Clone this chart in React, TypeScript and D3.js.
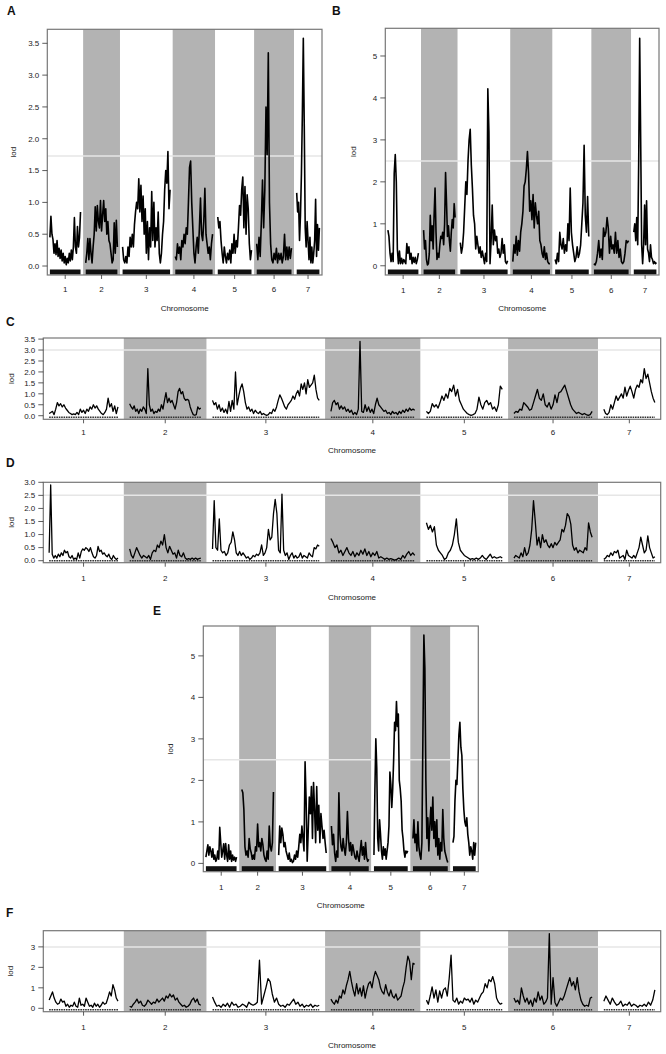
import * as d3 from 'd3'

const chromosomes = ['1', '2', '3', '4', '5', '6', '7']
// chromosome lengths (cM) and the gap R/qtl puts between them
const chrLengths = [147, 152, 228, 179, 162, 167, 109]
const chrGap = 25

// LOD profiles, one array per chromosome, evenly spaced along it
const lodA = [
  [0.45, 0.78, 0.5, 0.42, 0.2, 0.35, 0.18, 0.4, 0.15, 0.28, 0.12, 0.25, 0.08, 0.2, 0.05, 0.15, 0.02, 0.12, 0.05, 0.2, 0.08, 0.25, 0.1, 0.3, 0.76, 0.3, 0.2, 0.62, 0.3, 0.45, 0.85],
  [0.05, 0.2, 0.43, 0.1, 0.43, 0.2, 0.05, 0.3, 0.5, 0.93, 0.55, 0.95, 0.7, 0.6, 1.03, 0.55, 0.8, 1.03, 0.7, 0.9, 0.5, 0.7, 0.4, 0.35, 0.2, 0.05, 0.1, 0.68, 0.2, 0.72, 0.3],
  [0.3, 0.1, 0.05, 0.15, 0.05, 0.3, 0.15, 0.45, 0.3, 0.5, 0.3, 0.65, 0.85, 1.0, 0.9, 1.37, 0.85, 1.27, 0.7, 1.1, 0.5, 0.9, 0.2, 0.7, 0.1, 0.6, 0.3, 1.17, 0.4, 1.0, 0.3, 0.6, 0.4, 0.85, 0.2, 0.05, 0.2, 0.5, 0.7, 1.2, 1.5, 1.3, 1.8, 0.9, 1.2],
  [0.15, 0.1, 0.35, 0.2, 0.3, 0.1, 0.4, 0.3, 0.5, 0.35, 0.6, 0.5, 1.0, 1.55, 1.65, 1.0, 0.6, 0.2, 0.05, 0.3, 0.45, 0.2, 0.6, 1.07, 0.5, 0.4, 0.7, 1.22, 0.5, 0.35, 0.2, 0.3, 0.1, 0.35, 0.5],
  [0.77, 0.6, 0.7, 0.4, 0.2, 0.05, 0.3, 0.15, 0.05, 0.2, 0.1, 0.25, 0.05, 0.35, 0.2, 0.5, 0.2, 0.4, 0.3, 0.6, 0.95, 0.8, 1.2, 1.4, 0.6, 1.25, 0.5, 1.12, 0.9, 0.35, 0.1, 0.25],
  [0.35, 0.1, 0.45, 0.15, 0.7, 1.35, 0.6, 1.2, 2.5, 1.75, 3.35, 1.0, 0.35, 0.1, 0.05, 0.2, 0.1, 0.28, 0.05, 0.2, 0.1, 0.2, 0.05, 0.15, 0.5, 0.1, 0.3, 0.1, 0.3, 0.12, 0.28],
  [1.15, 0.85, 1.0, 0.4, 0.8, 1.45, 2.4, 3.58, 2.2, 0.6, 0.3, 0.7, 0.4, 0.1, 0.45, 0.05, 0.3, 0.05, 0.2, 0.4, 1.05, 0.15, 0.65, 0.25, 0.6],
]

const lodB = [
  [0.85, 0.7, 0.3, 0.1, 0.3, 0.1, 2.2, 2.65, 2.0, 0.4, 0.05, 0.35, 0.05, 0.18, 0.05, 0.15, 0.1, 0.05, 0.53, 0.3, 0.45, 0.15, 0.3, 0.05, 0.2, 0.08, 0.2, 0.05, 0.15, 0.3],
  [0.85, 0.4, 0.6, 0.15, 0.02, 0.05, 0.3, 1.2, 0.6, 0.95, 0.4, 1.2, 1.85, 0.8, 0.15, 0.3, 0.2, 0.5, 0.7, 0.65, 0.8, 0.5, 1.0, 2.22, 1.5, 0.7, 0.95, 0.6, 0.35, 0.8, 1.1, 0.9, 1.48, 1.15],
  [0.55, 0.3, 0.45, 0.8, 1.4, 2.0, 1.7, 2.5, 3.0, 3.25, 2.4, 1.85, 1.2, 1.0, 0.4, 0.7, 0.5, 0.3, 0.45, 0.2, 0.35, 0.2, 0.05, 0.3, 0.1, 4.22, 3.2, 0.05, 0.6, 1.45, 0.5, 0.85, 0.6, 0.7, 0.3, 0.4, 0.2, 0.3, 0.65, 0.3, 0.5, 0.1, 0.05, 0.12],
  [0.1, 0.5, 0.3, 0.7, 0.25, 0.6, 0.35, 0.8, 1.0, 1.3, 1.9, 2.0, 2.3, 2.72, 2.2, 1.3, 1.55, 1.1, 1.7, 0.9, 1.5, 1.2, 1.0, 1.3, 0.6, 0.5, 0.3, 0.2, 0.45, 0.15, 0.3, 0.1, 0.05, 0.05],
  [0.15, 0.05, 0.3, 0.1, 0.8, 0.5, 0.4, 0.65, 0.3, 0.5, 0.35, 1.0, 0.6, 1.85, 0.8, 0.5, 0.3, 0.1, 0.2, 0.45, 0.2, 0.3, 0.5, 1.0, 1.5, 2.87, 1.2, 0.8, 1.65, 0.7],
  [0.05, 0.02, 0.1, 0.3, 0.6, 0.2, 0.4, 0.15, 0.9, 0.7, 0.8, 1.15, 0.9, 0.3, 0.7, 0.4, 0.5, 0.3, 0.8, 0.3, 0.6, 0.2, 0.4, 0.1, 0.05, 0.1, 0.3, 0.6, 0.55, 0.6],
  [0.8, 1.0, 0.6, 1.15, 0.5, 2.5, 5.42, 3.0, 0.5, 0.05, 0.5, 1.45, 0.5, 1.55, 0.4, 0.3, 0.1, 0.5, 0.2, 0.15, 0.05, 0.1, 0.05, 0.08],
]

const lodC = [
  [0.1, 0.15, 0.2, 0.05, 0.3, 0.6, 0.45, 0.55, 0.4, 0.5, 0.35, 0.25, 0.15, 0.1, 0.05, 0.08, 0.05, 0.15, 0.05, 0.3, 0.15, 0.25, 0.1, 0.3, 0.2, 0.4, 0.3, 0.5, 0.35, 0.45, 0.3, 0.2, 0.1, 0.05, 0.15, 0.3, 0.8, 0.4, 0.55, 0.2, 0.45, 0.1, 0.4],
  [0.55, 0.4, 0.3, 0.45, 0.2, 0.3, 0.1, 0.3, 0.2, 0.4, 0.3, 0.1, 2.15, 0.5, 0.2, 0.3, 0.1, 0.2, 0.15, 0.3, 0.2, 0.5, 0.3, 0.7, 1.05, 0.6, 0.8, 0.6, 0.7, 0.5, 0.3, 0.6, 1.1, 1.25, 1.0, 1.1, 0.8, 0.7, 0.75, 0.7, 0.4, 0.2, 0.05, 0.02, 0.05, 0.4, 0.3, 0.35],
  [0.7, 0.5, 0.6, 0.3, 0.5, 0.2, 0.35, 0.15, 0.3, 0.1, 0.65, 0.2, 0.7, 0.3, 2.0, 0.5, 0.9, 1.25, 1.45, 1.1, 0.6, 0.3, 0.4, 0.2, 0.3, 0.1, 0.25, 0.15, 0.1, 0.2, 0.05, 0.1, 0.05, 0.02, 0.05, 0.15, 0.1, 0.3, 0.2, 0.4, 0.7, 0.95, 0.8, 0.6, 0.4, 0.3, 0.5, 0.6, 0.7, 0.9, 0.75, 1.0, 1.15, 0.9, 1.45, 1.2, 1.5, 1.0, 1.65, 1.3, 1.4, 1.5, 1.85, 1.2, 0.8, 0.7],
  [0.2, 0.6, 0.7, 0.5, 0.6, 0.3, 0.45, 0.3, 0.4, 0.2, 0.3, 0.15, 0.25, 0.05, 0.15, 0.05, 0.3, 3.4, 0.2, 0.15, 0.5, 0.2, 0.4, 0.15, 0.3, 0.1, 0.5, 0.8, 0.5, 0.4, 0.3, 0.2, 0.25, 0.1, 0.15, 0.05, 0.2, 0.1, 0.15, 0.05, 0.2, 0.1, 0.25, 0.15, 0.3, 0.2, 0.35, 0.25, 0.3, 0.25],
  [0.2, 0.1, 0.2, 0.55, 0.4, 0.5, 0.35, 0.6, 0.9, 0.7, 1.0, 0.8, 1.25, 1.1, 1.4, 0.9, 1.2, 0.7, 0.5, 0.3, 0.2, 0.1, 0.05, 0.02, 0.05, 0.1, 0.3, 0.85, 0.5, 0.3, 0.6, 0.7, 0.5, 0.6, 0.3, 0.4, 0.2, 0.5, 1.35, 1.2],
  [0.1, 0.2, 0.15, 0.3, 0.25, 0.6, 0.5, 0.4, 0.25, 0.3, 0.6, 0.9, 1.2, 0.8, 0.7, 1.0, 0.5, 0.4, 0.6, 0.3, 0.5, 0.95, 0.6, 1.05, 1.1, 1.25, 1.4, 1.1, 0.8, 0.5, 0.3, 0.2, 0.1, 0.15, 0.1, 0.05, 0.1, 0.05, 0.02, 0.05, 0.2],
  [0.3, 0.1, 0.05, 0.15, 0.5, 0.3, 0.6, 0.9, 0.7, 0.85, 1.0, 0.8, 1.3, 0.9, 1.15, 1.35, 1.1, 0.8, 1.2, 1.4, 1.3, 1.65, 1.5, 2.15, 1.7, 1.9, 1.5, 1.1, 0.8, 0.6],
]

const lodD = [
  [0.3, 2.9, 0.25, 0.1, 0.2, 0.1, 0.25, 0.15, 0.3, 0.2, 0.4, 0.3, 0.35, 0.15, 0.1, 0.2, 0.05, 0.1, 0.05, 0.3, 0.1, 0.35, 0.45, 0.4, 0.5, 0.45, 0.35, 0.5, 0.3, 0.15, 0.1, 0.2, 0.55, 0.35, 0.4, 0.25, 0.3, 0.2, 0.15, 0.25, 0.1, 0.05, 0.2, 0.1, 0.05, 0.1],
  [0.45, 0.2, 0.1, 0.3, 0.5, 0.35, 0.2, 0.1, 0.2, 0.15, 0.1, 0.2, 0.05, 0.3, 0.4, 0.35, 0.6, 0.5, 0.75, 0.6, 1.0, 0.5, 0.3, 0.55, 0.4, 0.25, 0.3, 0.1, 0.4, 0.2, 0.15, 0.3, 0.1, 0.05, 0.08, 0.05, 0.1, 0.05, 0.1, 0.05, 0.08, 0.1],
  [0.45, 2.3, 0.5, 0.4, 1.6, 0.4, 0.3, 0.35, 0.2, 0.3, 0.6, 0.7, 1.1, 0.8, 0.3, 0.2, 0.35, 0.2, 0.3, 0.2, 0.1, 0.15, 0.05, 0.1, 0.2, 0.15, 0.25, 0.2, 0.3, 0.6, 0.2, 0.3, 0.5, 1.2, 0.8, 0.9, 1.8, 2.35, 1.8, 0.4, 0.3, 2.55, 0.4, 0.2, 0.3, 0.05, 0.2, 0.3, 0.1, 0.2, 0.1, 0.15, 0.3, 0.1, 0.2, 0.15, 0.1, 0.3, 0.2, 0.15, 0.5, 0.45, 0.6, 0.55],
  [0.85, 0.7, 0.5, 0.6, 0.3, 0.4, 0.2, 0.35, 0.5, 0.3, 0.2, 0.35, 0.15, 0.3, 0.2, 0.4, 0.25, 0.45, 0.2, 0.35, 0.15, 0.3, 0.2, 0.35, 0.1, 0.15, 0.1, 0.05, 0.1, 0.05, 0.08, 0.05, 0.02, 0.05, 0.1, 0.05, 0.2, 0.1, 0.25, 0.35, 0.2, 0.3, 0.2],
  [1.45, 1.2, 1.35, 1.1, 1.3, 0.6, 0.4, 0.3, 0.2, 0.05, 0.1, 0.3, 0.4, 0.6, 1.0, 1.6, 0.7, 0.4, 0.3, 0.2, 0.15, 0.1, 0.05, 0.08, 0.05, 0.1, 0.05, 0.1, 0.2, 0.1, 0.05, 0.15, 0.25, 0.1, 0.15, 0.1, 0.12, 0.15, 0.1],
  [0.1, 0.2, 0.15, 0.1, 0.3, 0.15, 0.5, 0.2, 0.3, 0.6, 1.2, 2.3, 1.5, 0.6, 0.9, 0.5, 1.0, 0.7, 0.8, 0.6, 0.5, 0.65, 0.5, 0.7, 0.6, 0.7, 0.8, 1.2, 1.1, 1.35, 1.8, 1.7, 1.4, 0.6, 0.4, 0.5, 0.3, 0.4, 0.35, 0.3, 0.5, 0.4, 1.45, 1.1, 0.9],
  [0.05, 0.1, 0.2, 0.15, 0.3, 0.2, 0.35, 0.3, 0.4, 0.1, 0.15, 0.2, 0.05, 0.4, 0.2, 0.15, 0.1, 0.2, 0.1, 0.3, 0.5, 0.9, 0.6, 0.3, 0.4, 0.95, 0.5, 0.3, 0.1, 0.15],
]

const lodE = [
  [0.15, 0.3, 0.45, 0.2, 0.4, 0.3, 0.15, 0.35, 0.1, 0.2, 0.05, 0.1, 0.3, 0.1, 0.87, 0.5, 0.15, 0.3, 0.47, 0.1, 0.48, 0.2, 0.05, 0.45, 0.1, 0.3, 0.05, 0.2, 0.08, 0.15, 0.05, 0.15],
  [1.78, 1.7, 1.3, 0.4, 0.2, 0.3, 0.15, 0.6, 0.35, 0.25, 0.1, 0.2, 0.1, 0.4, 0.3, 0.95, 0.4, 0.5, 0.3, 0.6, 0.45, 0.2, 0.1, 0.05, 0.3, 0.1, 0.9, 0.4, 0.3, 0.5, 1.72],
  [0.2, 0.9, 0.5, 0.85, 0.7, 0.4, 0.5, 0.3, 0.2, 0.1, 0.25, 0.05, 0.1, 0.02, 0.05, 0.2, 0.1, 0.3, 0.15, 0.4, 0.7, 0.5, 0.9, 0.6, 0.3, 2.45, 1.5, 0.05, 0.8, 1.6, 1.2, 1.85, 0.6, 1.95, 1.3, 0.5, 1.85, 0.8, 1.4, 0.5, 1.2, 0.9, 0.6, 0.8, 0.5, 0.25],
  [0.9, 0.45, 0.7, 0.25, 0.05, 0.3, 0.15, 1.7, 0.7, 0.4, 0.3, 0.6, 0.35, 0.2, 0.5, 1.25, 0.6, 0.3, 0.5, 0.2, 0.45, 0.3, 0.15, 0.1, 0.3, 0.15, 0.05, 0.3, 0.55, 0.2, 0.4, 0.1, 0.5, 0.15, 0.05, 0.1],
  [0.2, 1.75, 3.0, 2.3, 0.6, 0.3, 1.05, 0.7, 0.3, 0.1, 0.4, 0.2, 0.35, 0.1, 0.3, 0.5, 0.9, 2.2, 1.9, 1.35, 1.8, 2.5, 3.4, 3.2, 3.9, 3.3, 3.6, 2.0, 1.8, 1.5, 0.8, 0.6, 0.3, 0.15, 0.3, 0.25, 0.3],
  [0.6, 1.05, 0.5, 0.7, 0.3, 1.0, 0.4, 0.2, 0.1, 0.5, 3.0, 5.5, 4.7, 2.0, 0.6, 1.1, 0.3, 0.9, 1.35, 0.8, 1.6, 0.6, 1.0, 0.4, 1.05, 0.2, 0.6, 0.1, 0.5, 0.3, 1.3, 0.6, 0.3, 0.2, 0.1, 0.02],
  [0.5, 0.65, 1.5, 2.0, 1.9, 2.5, 3.1, 3.4, 2.8, 2.6, 1.8, 1.3, 1.0, 0.9, 1.1, 0.7, 0.5, 0.2, 0.4, 0.3, 0.1, 0.5, 0.2, 0.5],
]

const lodF = [
  [0.4, 0.6, 0.8, 0.5, 0.3, 0.2, 0.25, 0.45, 0.3, 0.35, 0.1, 0.2, 0.05, 0.15, 0.1, 0.3, 0.1, 0.05, 0.5, 0.15, 0.2, 0.1, 0.5, 0.3, 0.1, 0.15, 0.05, 0.25, 0.1, 0.2, 0.05, 0.15, 0.3, 0.2, 0.25, 0.5, 0.8, 0.6, 1.15, 0.9, 0.5, 0.35],
  [0.1, 0.05, 0.2, 0.3, 0.45, 0.25, 0.35, 0.15, 0.1, 0.2, 0.4, 0.3, 0.2, 0.3, 0.25, 0.45, 0.3, 0.4, 0.5, 0.35, 0.6, 0.5, 0.7, 0.55, 0.65, 0.4, 0.5, 0.3, 0.2, 0.1, 0.15, 0.05, 0.1, 0.2, 0.4, 0.5, 0.3, 0.45, 0.2, 0.15],
  [0.55, 0.3, 0.1, 0.15, 0.05, 0.2, 0.1, 0.25, 0.05, 0.3, 0.15, 0.2, 0.05, 0.1, 0.2, 0.15, 0.05, 0.3, 0.2, 0.15, 0.2, 0.3, 2.35, 0.2, 0.6, 1.0, 1.45, 1.3, 0.7, 0.3, 0.5, 0.2, 0.1, 0.15, 0.05, 0.2, 0.15, 0.3, 0.45, 0.2, 0.3, 0.1, 0.2, 0.05, 0.15, 0.1, 0.2, 0.05, 0.15, 0.1, 0.15],
  [0.45, 0.3, 0.2, 0.4, 0.25, 0.6, 0.5, 0.9, 0.7, 1.1, 1.4, 1.8, 1.3, 0.9, 0.6, 1.2, 0.7, 1.0, 0.6, 1.1, 0.5, 0.9, 1.2, 1.3, 1.0, 1.5, 1.8, 1.6, 1.4, 1.0, 0.8, 0.7, 1.15, 0.8, 0.6, 0.9, 0.6, 0.5, 0.7, 0.4, 0.5, 0.6, 1.0, 1.3, 2.0, 2.55, 2.3, 1.4, 2.2, 2.15],
  [0.4, 0.2, 0.6, 1.05, 0.5, 0.9, 0.3, 0.85, 0.5, 0.9, 1.0, 0.6, 1.45, 2.6, 0.4, 0.3, 0.5, 0.2, 0.35, 0.25, 0.5, 0.4, 0.45, 0.3, 0.5, 0.2, 0.4, 0.3, 0.5, 0.7, 0.8, 1.2, 1.0, 1.4, 1.3, 1.55, 1.2, 0.5, 0.3, 0.2, 0.25],
  [0.5, 0.3, 0.4, 0.2, 1.0, 0.6, 0.3, 0.5, 0.2, 0.4, 0.1, 0.5, 0.3, 0.8, 0.4, 0.6, 0.2, 0.3, 0.5, 3.65, 0.2, 1.5, 0.3, 0.1, 0.3, 0.5, 0.4, 0.6, 0.9, 1.2, 1.5, 1.1, 1.3, 0.9, 1.5, 0.8, 0.4, 0.2, 0.1, 0.15, 0.1, 0.5, 0.55],
  [0.35, 0.6, 0.4, 0.2, 0.5, 0.3, 0.15, 0.2, 0.35, 0.1, 0.2, 0.15, 0.3, 0.1, 0.2, 0.15, 0.05, 0.15, 0.1, 0.2, 0.1, 0.3, 0.15, 0.4, 0.9],
]

const ticksHalf = [0, 0.5, 1, 1.5, 2, 2.5, 3, 3.5]
const ticksHalf3 = [0, 0.5, 1, 1.5, 2, 2.5, 3]
const ticksInt5 = [0, 1, 2, 3, 4, 5]
const ticksInt3 = [0, 1, 2, 3]

const FONT = 'Liberation Sans, Arial, Helvetica, sans-serif'

// band offsets along the genome axis
const bandStarts: number[] = []
let acc = 0
chrLengths.forEach((len) => {
  bandStarts.push(acc)
  acc += len + chrGap
})
const totalLength = acc

interface PanelProps {
  letter: string
  letterX: number
  letterY: number
  left: number
  right: number
  top: number
  bottom: number
  yDomain: [number, number]
  yTicks: number[]
  fmt: (v: number) => string
  threshold: number
  lod: number[][]
  lodX: number
  labelY: number
  titleY: number
  heavy: boolean
}

function LodPanel(p: PanelProps) {
  const x = d3.scaleLinear().domain([0, totalLength]).range([p.left, p.right])
  const y = d3.scaleLinear().domain(p.yDomain).range([p.bottom, p.top])
  const line = d3
    .line<[number, number]>()
    .x((d) => x(d[0]))
    .y((d) => y(d[1]))

  return (
    <g>
      {chromosomes.map((c, i) => {
        const x0 = x(bandStarts[i])
        const x1 = x(bandStarts[i] + chrLengths[i] + chrGap)
        return (
          <rect
            key={'band' + c}
            x={x0}
            y={p.top}
            width={x1 - x0}
            height={p.bottom - p.top}
            fill={i % 2 === 1 ? '#b3b3b3' : '#ffffff'}
          />
        )
      })}
      <line
        x1={p.left}
        x2={p.right}
        y1={y(p.threshold)}
        y2={y(p.threshold)}
        stroke="#e6e6e6"
        strokeWidth={1.5}
      />
      {chromosomes.map((c, i) => {
        const s = bandStarts[i] + chrGap / 2
        const xs = x(s)
        const xe = x(s + chrLengths[i])
        return p.heavy ? (
          <rect key={'rug' + c} x={xs} y={p.bottom - 5.5} width={xe - xs} height={5} fill="#111" />
        ) : (
          <line
            key={'rug' + c}
            x1={xs}
            x2={xe}
            y1={p.bottom - 2}
            y2={p.bottom - 2}
            stroke="#333"
            strokeWidth={1.6}
            strokeDasharray="1.6 0.8"
          />
        )
      })}
      {p.lod.map((vals, i) => {
        const s = bandStarts[i] + chrGap / 2
        const pts: [number, number][] = vals.map((v, j) => [
          s + (j / (vals.length - 1)) * chrLengths[i],
          v,
        ])
        return (
          <path
            key={'lod' + i}
            d={line(pts) || ''}
            fill="none"
            stroke="#000"
            strokeWidth={p.heavy ? 1.6 : 1.3}
            strokeLinejoin="round"
          />
        )
      })}
      <rect
        x={p.left}
        y={p.top}
        width={p.right - p.left}
        height={p.bottom - p.top}
        fill="none"
        stroke="#777"
        strokeWidth={1.2}
      />
      {p.yTicks.map((t) => (
        <g key={'yt' + t}>
          <line x1={p.left - 5} x2={p.left} y1={y(t)} y2={y(t)} stroke="#333" strokeWidth={0.8} />
          <text
            x={p.left - 8}
            y={y(t)}
            dy="0.35em"
            textAnchor="end"
            fontSize={8}
            fill="#222"
            fontFamily={FONT}
          >
            {p.fmt(t)}
          </text>
        </g>
      ))}
      {chromosomes.map((c, i) => {
        const cx = x(bandStarts[i] + (chrLengths[i] + chrGap) / 2)
        return (
          <g key={'xt' + c}>
            <line x1={cx} x2={cx} y1={p.bottom} y2={p.bottom + 4} stroke="#333" strokeWidth={0.8} />
            <text x={cx} y={p.labelY} textAnchor="middle" fontSize={8} fill="#222" fontFamily={FONT}>
              {c}
            </text>
          </g>
        )
      })}
      <text
        transform={`translate(${p.lodX},${(p.top + p.bottom) / 2}) rotate(-90)`}
        textAnchor="middle"
        dy="0.35em"
        fontSize={8}
        fill="#222"
        fontFamily={FONT}
      >
        lod
      </text>
      <text
        x={(p.left + p.right) / 2}
        y={p.titleY}
        textAnchor="middle"
        fontSize={8}
        fill="#222"
        fontFamily={FONT}
      >
        Chromosome
      </text>
      <text x={p.letterX} y={p.letterY} fontSize={12} fontWeight="bold" fill="#111" fontFamily={FONT}>
        {p.letter}
      </text>
    </g>
  )
}

const f1 = d3.format('.1f')
const f0 = d3.format('d')

export default function App() {
  return (
    <svg
      width={666}
      height={1054}
      style={{ position: 'absolute', left: 0, top: 0, background: '#fff', display: 'block' }}
    >
      <LodPanel
        letter="A" letterX={7} letterY={15}
        left={47.3} right={322} top={29.3} bottom={275}
        yDomain={[-0.141, 3.72]} yTicks={ticksHalf} fmt={f1} threshold={1.73}
        lod={lodA} lodX={13} labelY={292} titleY={311} heavy={true}
      />
      <LodPanel
        letter="B" letterX={332} letterY={15}
        left={385.3} right={659} top={28.3} bottom={275}
        yDomain={[-0.22, 5.66]} yTicks={ticksInt5} fmt={f0} threshold={2.5}
        lod={lodB} lodX={353} labelY={292.5} titleY={311} heavy={true}
      />
      <LodPanel
        letter="C" letterX={6} letterY={326}
        left={43.3} right={660.7} top={338} bottom={419.3}
        yDomain={[-0.164, 3.55]} yTicks={ticksHalf} fmt={f1} threshold={3.0}
        lod={lodC} lodX={11} labelY={434.5} titleY={452.5} heavy={false}
      />
      <LodPanel
        letter="D" letterX={6} letterY={467}
        left={43.3} right={660.7} top={482.3} bottom={562.7}
        yDomain={[-0.077, 3.0]} yTicks={ticksHalf3} fmt={f1} threshold={2.5}
        lod={lodD} lodX={11} labelY={580.5} titleY={600} heavy={false}
      />
      <LodPanel
        letter="E" letterX={153} letterY={615}
        left={203.3} right={478.3} top={626} bottom={871.7}
        yDomain={[-0.2, 5.72]} yTicks={ticksInt5} fmt={f0} threshold={2.5}
        lod={lodE} lodX={170} labelY={889.5} titleY={908} heavy={true}
      />
      <LodPanel
        letter="F" letterX={6} letterY={917}
        left={43.3} right={660.7} top={930.7} bottom={1011.7}
        yDomain={[-0.166, 3.79]} yTicks={ticksInt3} fmt={f0} threshold={3.0}
        lod={lodF} lodX={10} labelY={1029.5} titleY={1047.5} heavy={false}
      />
    </svg>
  )
}
